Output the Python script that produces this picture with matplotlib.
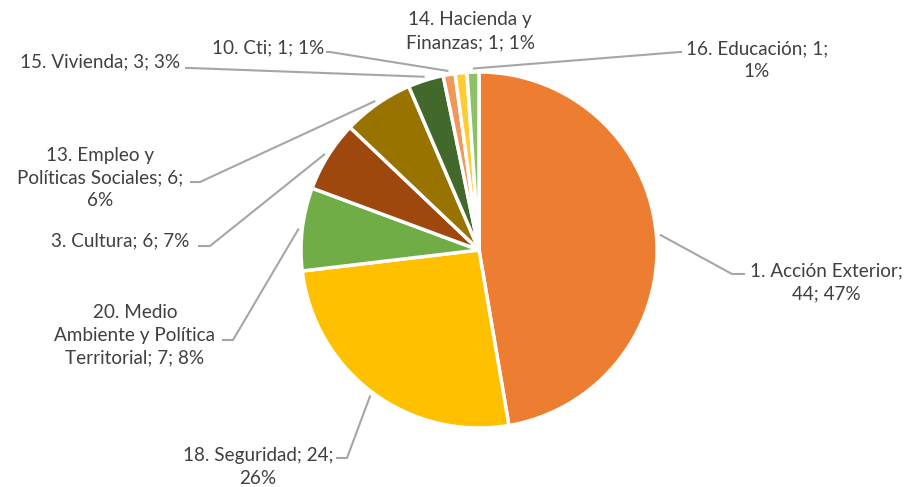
import numpy as np
import matplotlib
matplotlib.use("Agg")
import matplotlib.pyplot as plt

categories = ["1. Acción Exterior", "18. Seguridad", "20. Medio Ambiente y Política Territorial",
              "3. Cultura", "13. Empleo y Políticas Sociales", "15. Vivienda",
              "10. Cti", "14. Hacienda y Finanzas", "16. Educación"]
values = [44, 24, 7, 6, 6, 3, 1, 1, 1]
labels = ["1. Acción Exterior;\n44; 47%",
          "18. Seguridad; 24;\n26%",
          "20. Medio\nAmbiente y Política\nTerritorial; 7; 8%",
          "3. Cultura; 6; 7%",
          "13. Empleo y\nPolíticas Sociales; 6;\n6%",
          "15. Vivienda; 3; 3%",
          "10. Cti; 1; 1%",
          "14. Hacienda y\nFinanzas; 1; 1%",
          "16. Educación; 1;\n1%"]
colors = ["#ED7D31", "#FFC000", "#70AD47", "#9E480E", "#997300",
          "#43682B", "#F1975A", "#FFCD33", "#8CC168"]

# layout (pixel coordinates, y down)
cx, cy, R = 479, 250, 178
text_pos = [(826, 282), (258, 467), (135, 335), (120, 241), (100, 178),
            (100, 62), (268, 48), (470, 31), (757, 60)]
elbows = [(732, 274), (347, 458), (233, 340), (210, 246), (200, 182),
          (190, 68), (330, 52), None, (680, 52)]
ends = [(745, 274), (336, 458), (222, 340), (198, 246), (190, 182),
        (185, 68), (326, 52), None, (682, 52)]

fig = plt.figure(figsize=(9.10, 4.87), dpi=100)
ax = fig.add_axes([0, 0, 1, 1])
wedges, _ = ax.pie(values, colors=colors, startangle=-90, counterclock=True,
                   center=(cx, cy), radius=R,
                   wedgeprops=dict(edgecolor="white", linewidth=2.5))
ax.set_xlim(0, 910)
ax.set_ylim(487, 0)
ax.set_aspect("equal")
ax.axis("off")

total = sum(values)
cum = 0
for i, v in enumerate(values):
    mid = -90 + (cum + v / 2) / total * 360
    cum += v
    t = np.deg2rad(mid)
    ax_, ay_ = cx + R * 1.02 * np.cos(t), cy + R * 1.02 * np.sin(t)
    if elbows[i] is not None:
        xs = [ax_, elbows[i][0], ends[i][0]]
        ys = [ay_, elbows[i][1], ends[i][1]]
        ax.plot(xs, ys, color="#A6A6A6", lw=1.5, solid_capstyle="butt", zorder=1)
    ax.text(text_pos[i][0], text_pos[i][1], labels[i], ha="center", va="center",
            fontsize=13.6, family=["Lato", "DejaVu Sans"], color="#404040",
            linespacing=1.42)

fig.savefig("out.png", dpi=100)
